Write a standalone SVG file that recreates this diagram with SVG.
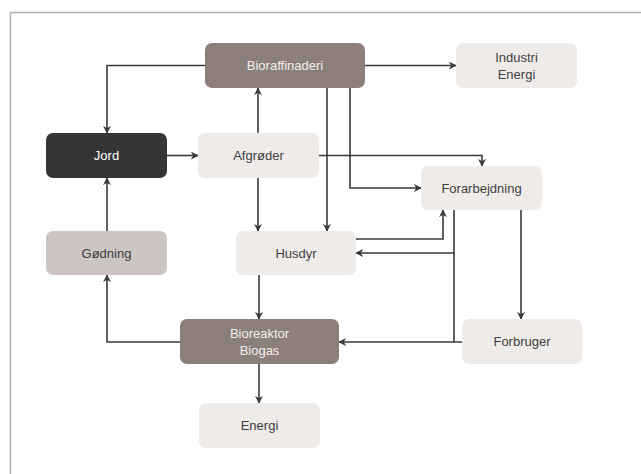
<svg xmlns="http://www.w3.org/2000/svg" width="641" height="474" viewBox="0 0 641 474">
<style>
.n rect{rx:7px;ry:7px}
.t{font-family:"Liberation Sans",Arial,sans-serif;font-size:13px;text-anchor:middle}
.dk{fill:#f3efec}
.lt{fill:#404040}
.c path{fill:none;stroke:#3a3a3a;stroke-width:1.6}
</style>
<defs>
<marker id="a" viewBox="0 0 10 10" refX="9" refY="5" markerWidth="8" markerHeight="8" markerUnits="userSpaceOnUse" orient="auto">
<path d="M0,0 L10,5 L0,10 L3,5 z" fill="#3a3a3a"/>
</marker>
</defs>
<rect x="10.5" y="12.5" width="640" height="470" fill="#fff" stroke="#b0b0b0" stroke-width="1.5"/>
<g class="c">
<path d="M205,65.5 H107 V133" marker-end="url(#a)"/>
<path d="M365,65.5 H456" marker-end="url(#a)"/>
<path d="M258,133 V88" marker-end="url(#a)"/>
<path d="M167,155.5 H198" marker-end="url(#a)"/>
<path d="M319,155.5 H482 V166" marker-end="url(#a)"/>
<path d="M258,178 V231" marker-end="url(#a)"/>
<path d="M327,88 V231" marker-end="url(#a)"/>
<path d="M350,88 V188 H421" marker-end="url(#a)"/>
<path d="M356,239 H443 V210" marker-end="url(#a)"/>
<path d="M454,210 V253 H356" marker-end="url(#a)"/>
<path d="M454,253 V342"/>
<path d="M462,342 H339" marker-end="url(#a)"/>
<path d="M521,210 V319" marker-end="url(#a)"/>
<path d="M259,275 V319" marker-end="url(#a)"/>
<path d="M180,342 H107 V275" marker-end="url(#a)"/>
<path d="M107,231 V178" marker-end="url(#a)"/>
<path d="M259,364 V403" marker-end="url(#a)"/>
</g>
<g id="bioraffinaderi" class="n"><rect x="205" y="43" width="160" height="45" fill="#8c7f7a"/><text class="t dk" x="285" y="70">Bioraffinaderi</text></g>
<g id="industri" class="n"><rect x="456" y="43" width="121" height="45" fill="#efebe8"/><text class="t lt" x="516.5" y="62">Industri</text><text class="t lt" x="516.5" y="79">Energi</text></g>
<g id="jord" class="n"><rect x="46" y="133" width="121" height="45" fill="#353535"/><text class="t" fill="#ffffff" x="106.5" y="160">Jord</text></g>
<g id="afgroder" class="n"><rect x="198" y="133" width="121" height="45" fill="#efebe8"/><text class="t lt" x="258.5" y="160">Afgrøder</text></g>
<g id="forarbejdning" class="n"><rect x="421" y="166" width="121" height="44" fill="#efebe8"/><text class="t lt" x="481.5" y="192.5">Forarbejdning</text></g>
<g id="godning" class="n"><rect x="46" y="231" width="121" height="44" fill="#cdc5c2"/><text class="t lt" x="106.5" y="257.5">Gødning</text></g>
<g id="husdyr" class="n"><rect x="236" y="231" width="120" height="44" fill="#efebe8"/><text class="t lt" x="296" y="257.5">Husdyr</text></g>
<g id="bioreaktor" class="n"><rect x="180" y="319" width="159" height="45" fill="#8c7f7a"/><text class="t dk" x="259.5" y="338">Bioreaktor</text><text class="t dk" x="259.5" y="355">Biogas</text></g>
<g id="forbruger" class="n"><rect x="462" y="319" width="120" height="45" fill="#efebe8"/><text class="t lt" x="522" y="346">Forbruger</text></g>
<g id="energi" class="n"><rect x="199" y="403" width="121" height="45" fill="#efebe8"/><text class="t lt" x="259.5" y="430">Energi</text></g>
</svg>
